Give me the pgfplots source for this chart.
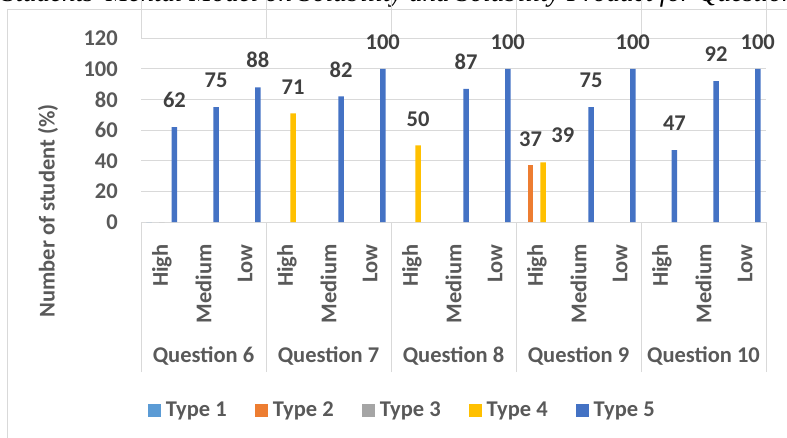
\documentclass[border=0pt]{standalone}
\usepackage{pgfplots}
\pgfplotsset{compat=1.18}
\usepackage{fontspec}
\setmainfont{Carlito}
\newfontfamily\titlefont{Liberation Serif}
\definecolor{tone1}{HTML}{5B9BD5}
\definecolor{tone2}{HTML}{ED7D31}
\definecolor{tone3}{HTML}{A5A5A5}
\definecolor{tone4}{HTML}{FFC000}
\definecolor{tone5}{HTML}{4472C4}
\definecolor{txt}{HTML}{595959}
\definecolor{lbl}{HTML}{404040}
\definecolor{gridc}{HTML}{D9D9D9}
\newcommand\bigfont{\bfseries\fontsize{22.5}{25}\selectfont}
\begin{document}
\begin{tikzpicture}[x=1pt,y=1pt]
\useasboundingbox (0pt,0pt) rectangle (787pt,437pt);
\clip (0pt,0pt) rectangle (787pt,437pt);
\draw[gridc, line width=1.2pt] (7.5pt,-2pt) -- (7.5pt,427.5pt) -- (790pt,427.5pt);
\node[anchor=base east, inner sep=0pt, font=\titlefont\itshape\fontsize{27}{30}\selectfont] at (560pt,435pt) {Students' Mental Model on Solubility and Solubility};
\node[anchor=base west, inner sep=0pt, font=\titlefont\itshape\fontsize{27}{30}\selectfont] at (567pt,435pt) {Product for Question 6--10};
\begin{axis}[
  at={(141pt,215pt)}, anchor=south west, scale only axis,
  width=625pt, height=183.7pt,
  clip=false,
  ybar=0.8pt, bar width=5.5pt,
  xmin=-0.5, xmax=14.5, ymin=0, ymax=120,
  ytick={0,20,...,120},
  xtick={0,...,14},
  xticklabels={High,Medium,Low,High,Medium,Low,High,Medium,Low,High,Medium,Low,High,Medium,Low},
  axis line style={draw=none},
  ymajorgrids, grid style={gridc, line width=1pt},
  tick style={draw=none},
  extra x ticks={-0.5,2.5,5.5,8.5,11.5,14.5},
  extra x tick labels={},
  extra x tick style={major tick length=150pt, tick align=outside, tick style={draw=gridc, line width=1pt}},
  /pgf/number format/assume math mode=true,
  ticklabel style={font=\bigfont, text=txt},
  xticklabel style={rotate=90, anchor=east, inner sep=0pt},
  xticklabel shift=18pt,
  yticklabel style={inner sep=0pt, anchor=east},
  yticklabel shift=23pt,
  ylabel={Number of student (\%)},
  every axis y label/.style={at={(axis description cs:0,0.06)}, xshift=-93pt, rotate=90, anchor=center, font=\bigfont, text=txt},
  legend style={at={(axis description cs:0.418,-1.0234)}, anchor=center, draw=none, fill=none, font=\bigfont, text=txt, legend columns=5, /tikz/every even column/.append style={column sep=26pt}},
  legend image code/.code={\fill[#1] (0pt,-6.5pt) rectangle (13pt,6.5pt); \path (16pt,0pt);},
  every node near coord/.append style={font=\bigfont, text=lbl, anchor=south, inner sep=0pt, yshift=19pt},
]
\addplot[fill=tone1, draw=none] coordinates {(0,0)};
\addplot[fill=tone2, draw=none, nodes near coords] coordinates {(9,37)};
\addplot[fill=tone3, draw=none] coordinates {(0,0)};
\addplot[fill=tone4, draw=none, nodes near coords={\pgfplotspointmeta}, point meta=explicit symbolic] coordinates {(3,71) [71] (6,50) [50] (9,39) [\hspace*{39.4pt}39]};
\addplot[fill=tone5, draw=none, nodes near coords] coordinates {
(0,62) (1,75) (2,88)
(4,82) (5,100)
(7,87) (8,100)
(10,75) (11,100)
(12,47) (13,92) (14,100)};
\legend{Type 1,Type 2,Type 3,Type 4,Type 5}
\node[font=\bigfont, text=txt, yshift=-134pt] at (axis cs:1,0) {Question 6};
\node[font=\bigfont, text=txt, yshift=-134pt] at (axis cs:4,0) {Question 7};
\node[font=\bigfont, text=txt, yshift=-134pt] at (axis cs:7,0) {Question 8};
\node[font=\bigfont, text=txt, yshift=-134pt] at (axis cs:10,0) {Question 9};
\node[font=\bigfont, text=txt, yshift=-134pt] at (axis cs:13,0) {Question 10};
\end{axis}
\end{tikzpicture}
\end{document}
